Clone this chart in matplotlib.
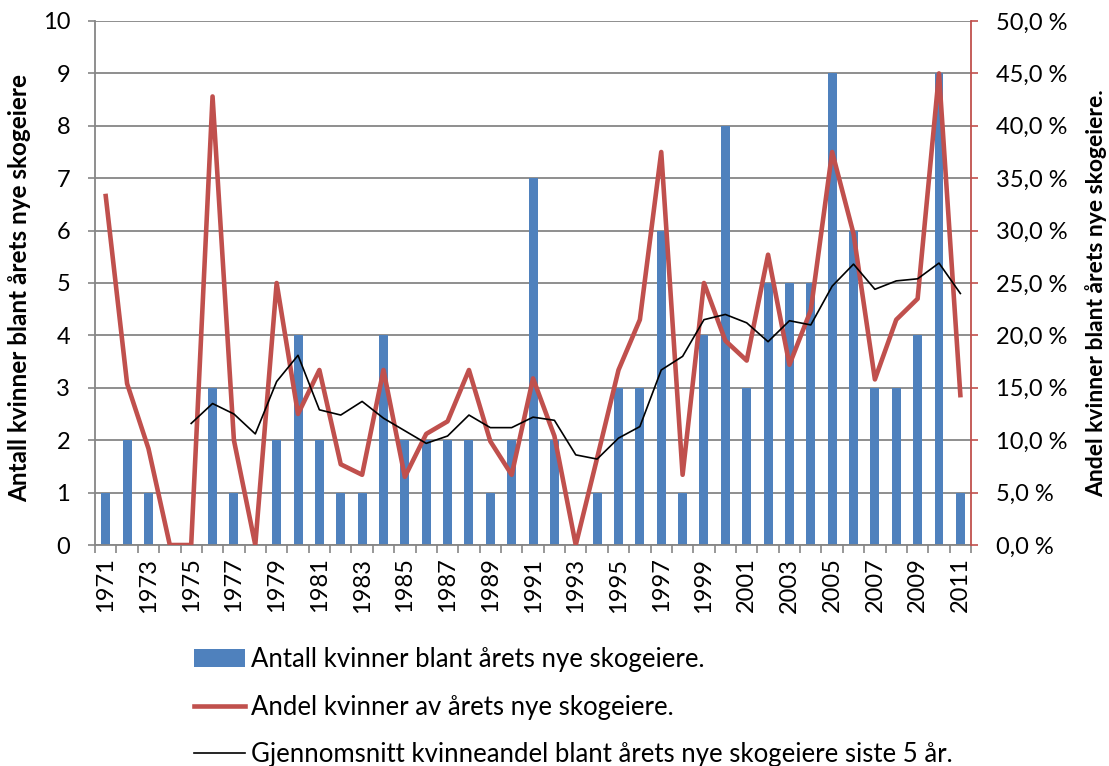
import numpy as np
import matplotlib.pyplot as plt

plt.rcParams['font.family'] = ['Lato', 'DejaVu Sans']

years = list(range(1971, 2012))

# Antall kvinner blant årets nye skogeiere
antall = [1, 2, 1, 0, 0, 3, 1, 0, 2, 4, 2, 1, 1, 4, 2, 2, 2, 2, 1, 2, 7,
          2, 0, 1, 3, 3, 6, 1, 4, 8, 3, 5, 5, 5, 9, 6, 3, 3, 4, 9, 1]

# Andel kvinner av årets nye skogeiere (%)
andel = [33.3, 15.4, 9.2, 0.0, 0.0, 42.8, 10.0, 0.0, 25.0, 12.5, 16.7, 7.7,
         6.7, 16.7, 6.5, 10.6, 11.8, 16.7, 9.9, 6.7, 15.9, 10.4, 0.0, 8.3,
         16.7, 21.5, 37.5, 6.7, 25.0, 19.5, 17.6, 27.7, 17.2, 22.4, 37.5,
         29.7, 15.8, 21.5, 23.5, 45.0, 14.3]

# Gjennomsnitt siste 5 år (%), fra 1975
snitt = [None, None, None, None, 11.6, 13.5, 12.5, 10.6, 15.6, 18.1, 12.9,
         12.4, 13.7, 12.1, 10.9, 9.7, 10.4, 12.4, 11.2, 11.2, 12.2, 11.9,
         8.6, 8.2, 10.2, 11.3, 16.7, 18.0, 21.5, 22.0, 21.2, 19.4, 21.4,
         21.0, 24.7, 26.8, 24.4, 25.2, 25.4, 26.9, 24.0]

labels = ['Antall kvinner blant årets nye skogeiere.',
          'Andel kvinner av årets nye skogeiere.',
          'Gjennomsnitt kvinneandel blant årets nye skogeiere siste 5 år.']

blue = '#4F81BD'
red = '#C0504D'
grey = '#868686'

fig = plt.figure(figsize=(11.09, 7.66), dpi=100)
ax = fig.add_axes([0.0857, 0.2885, 0.7899, 0.6841])
x = np.arange(len(years))

bars = ax.bar(x, antall, width=0.42, color=blue, zorder=2)
ax.set_xlim(-0.5, len(years) - 0.5)
ax.set_ylim(0, 10)
ax.set_yticks(range(0, 11))
ax.grid(axis='y', color=grey, lw=1.3, zorder=0)
ax.set_axisbelow(True)

# x ticks at category boundaries, labels at every other year
ax.set_xticks(np.arange(-0.5, len(years)), minor=False)
ax.set_xticklabels([])
ax.set_xticks(x[::2], minor=True)
ax.set_xticklabels([str(y) for y in years[::2]], minor=True, rotation=90)
ax.tick_params(axis='x', which='major', length=6, color=grey, width=1.2)
ax.tick_params(axis='x', which='minor', length=0, pad=9, labelsize=17)
ax.tick_params(axis='y', length=5, color=grey, width=1.2, labelsize=17, pad=13)

for s in ['top', 'right']:
    ax.spines[s].set_visible(False)
ax.spines['left'].set_color(grey)
ax.spines['left'].set_linewidth(1.3)
ax.spines['bottom'].set_color(grey)
ax.spines['bottom'].set_linewidth(1.3)

ax.set_ylabel('Antall kvinner blant årets nye skogeiere', fontsize=17.5,
              fontweight='bold')
ax.yaxis.set_label_coords(-0.073, 0.49)

ax2 = ax.twinx()
snitt_arr = np.array([np.nan if v is None else v for v in snitt])
l1, = ax2.plot(x, andel, color=red, lw=3.3, zorder=3, solid_joinstyle='round')
l2, = ax2.plot(x, snitt_arr, color='black', lw=1.2, zorder=4)
ax2.set_ylim(0, 50)
ax2.set_yticks(np.arange(0, 51, 5))
ax2.set_yticklabels([f'{v:.1f}'.replace('.', ',') + ' %' for v in np.arange(0, 51, 5)])
ax2.tick_params(axis='y', length=5, color=red, width=1.2, labelsize=17, pad=13)
for s in ['top', 'left', 'bottom']:
    ax2.spines[s].set_visible(False)
ax2.spines['right'].set_color(red)
ax2.spines['right'].set_linewidth(1.3)
ax2.set_ylabel('Andel kvinner blant årets nye skogeiere.', fontsize=16.5,
               fontweight='bold')
ax2.yaxis.set_label_coords(1.13, 0.48)

fig.legend([bars, l1, l2], labels, loc='upper left', bbox_to_anchor=(0.163, 0.172),
           frameon=False, fontsize=18.5, labelspacing=0.88, handlelength=2.0,
           handletextpad=0.25, borderpad=0)

fig.savefig('out.png', dpi=100)
